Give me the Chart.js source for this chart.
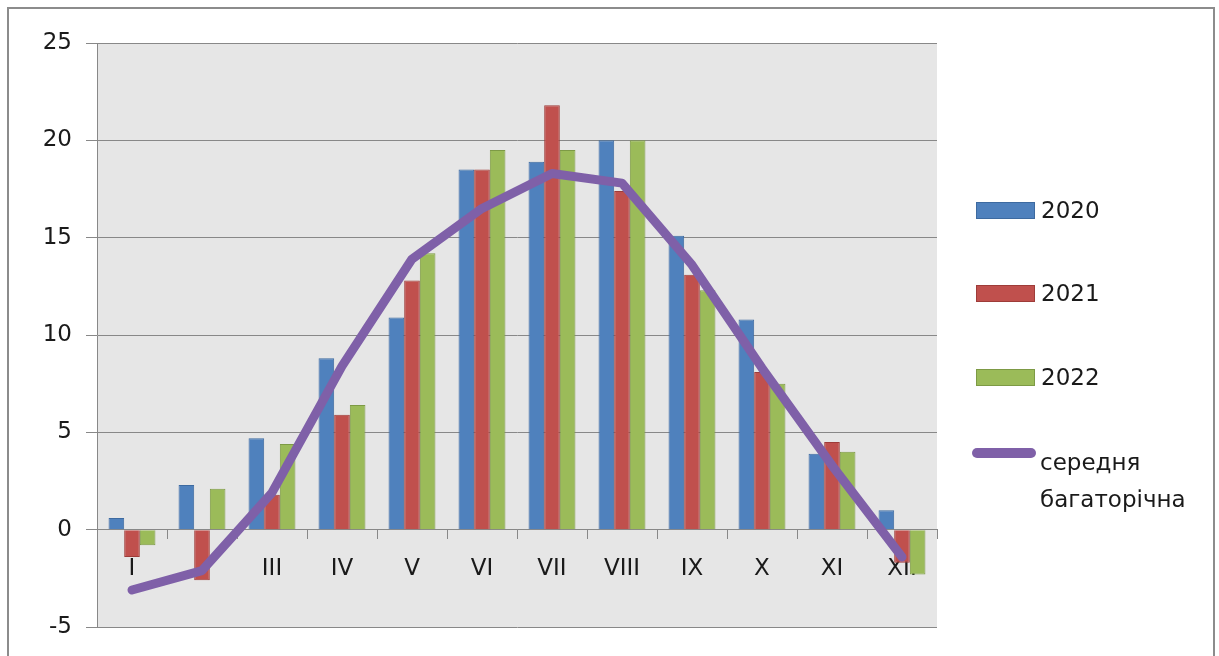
<!DOCTYPE html>
<html>
<head>
<meta charset="utf-8">
<script src="https://cdn.jsdelivr.net/npm/chart.js@4/dist/chart.umd.min.js"></script>
<style>
  body { margin: 0; background: #fff; font-family: "DejaVu Sans", sans-serif; }
  #wrap { position: relative; width: 1219px; height: 656px; overflow: hidden; }
  #frame { position: absolute; left: 7px; top: 7px; width: 1208px; height: 700px; border: 2px solid #8c8c8c; box-sizing: border-box; pointer-events: none; }
  #legend { position: absolute; left: 0; top: 0; }
  .item { position: absolute; left: 976px; display: flex; align-items: center; font-size: 23px; color: #1a1a1a; }
  .box { width: 57px; height: 15px; border: 1px solid; margin-right: 6px; }
  .stroke { width: 64px; height: 10px; border-radius: 5px; background: #7f60a8; margin-left: -4px; margin-right: 3px; }
  .two { position: absolute; left: 1040px; font-size: 23px; color: #1a1a1a; line-height: 37px; }
</style>
</head>
<body>
<div id="wrap">
  <canvas id="grafico" width="1219" height="656"></canvas>
  <div id="legend"></div>
  <div id="frame"></div>
</div>
<script>
// meses
const meses = ['I', 'II', 'III', 'IV', 'V', 'VI', 'VII', 'VIII', 'IX', 'X', 'XI', 'XII'];

// temperatura media mensal por ano
const ano2020 = [0.6, 2.3, 4.7, 8.8, 10.9, 18.5, 18.9, 20.0, 15.1, 10.8, 3.9, 1.0];
const ano2021 = [-1.4, -2.6, 1.8, 5.9, 12.8, 18.5, 21.8, 17.4, 13.1, 8.1, 4.5, -1.7];
const ano2022 = [-0.8, 2.1, 4.4, 6.4, 14.2, 19.5, 19.5, 20.0, 12.3, 7.5, 4.0, -2.3];
const mediaAnual = [-3.1, -2.1, 1.9, 8.4, 13.9, 16.5, 18.3, 17.8, 13.6, 8.3, 3.3, -1.4];

const nomes = ['2020', '2021', '2022', 'середня багаторічна'];
const cores = ['#4f81bd', '#c0504d', '#9bbb59', '#7f60a8'];
const bordas = ['#3d6aa0', '#9e3c39', '#7d9a45'];

// fundo cinza da area do grafico
const fundoPlugin = {
    id: 'fundo',
    beforeDraw(chart) {
        const { ctx, chartArea: a } = chart;
        ctx.save();
        ctx.fillStyle = '#e6e6e6';
        ctx.fillRect(a.left, a.top, a.right - a.left, a.bottom - a.top);
        ctx.restore();
    }
};

function barra(i, valores) {
    return {
        type: 'bar',
        label: nomes[i],
        data: valores,
        backgroundColor: cores[i],
        borderColor: bordas[i],
        borderWidth: 1,
        categoryPercentage: 0.67,
        barPercentage: 1.0,
        order: 1
    };
}

const fonte = { family: 'DejaVu Sans', size: 23 };

const config = {
    type: 'bar',
    data: {
        labels: meses,
        datasets: [
            barra(0, ano2020),
            barra(1, ano2021),
            barra(2, ano2022),
            {
                type: 'line',
                label: nomes[3],
                data: mediaAnual,
                borderColor: cores[3],
                borderWidth: 9,
                borderCapStyle: 'round',
                borderJoinStyle: 'round',
                pointRadius: 0,
                tension: 0,
                order: 0
            }
        ]
    },
    options: {
        responsive: false,
        animation: false,
        devicePixelRatio: 1,
        layout: { padding: { left: 0, top: 43, right: 282, bottom: 29 } },
        plugins: {
            legend: { display: false },
            tooltip: { enabled: false }
        },
        scales: {
            x: {
                position: { y: 0 },
                grid: { drawOnChartArea: false, drawTicks: true, tickLength: 9, offset: true, color: '#888' },
                border: { display: true, color: '#888' },
                ticks: {
                    font: fonte,
                    color: '#1a1a1a',
                    padding: 17,
                    maxRotation: 0,
                    autoSkip: false
                }
            },
            y: {
                min: -5,
                max: 25,
                afterFit(scale) { scale.width = 97; },
                grid: { color: '#888', tickLength: 11 },
                border: { color: '#888' },
                ticks: {
                    stepSize: 5,
                    font: fonte,
                    color: '#1a1a1a',
                    padding: 14
                }
            }
        }
    },
    plugins: [fundoPlugin]
};

// legenda
function montarLegenda() {
    const leg = document.getElementById('legend');
    const ys = [212, 295, 379];
    for (let i = 0; i < 3; i++) {
        const el = document.createElement('div');
        el.className = 'item';
        el.style.top = (ys[i] - 15) + 'px';
        el.innerHTML = '<span class="box" style="background:' + cores[i] + ';border-color:' + bordas[i] + '"></span><span>' + nomes[i] + '</span>';
        leg.appendChild(el);
    }
    const linha = document.createElement('div');
    linha.className = 'item';
    linha.style.top = (463 - 15) + 'px';
    linha.innerHTML = '<span class="stroke"></span>';
    leg.appendChild(linha);
    const txt = document.createElement('div');
    txt.className = 'two';
    txt.style.top = (463 - 19) + 'px';
    txt.innerHTML = 'середня<br>багаторічна';
    leg.appendChild(txt);
}

document.addEventListener('DOMContentLoaded', function() {
    const ctx = document.getElementById('grafico').getContext('2d');
    new Chart(ctx, config);
    montarLegenda();
});
</script>
</body>
</html>
